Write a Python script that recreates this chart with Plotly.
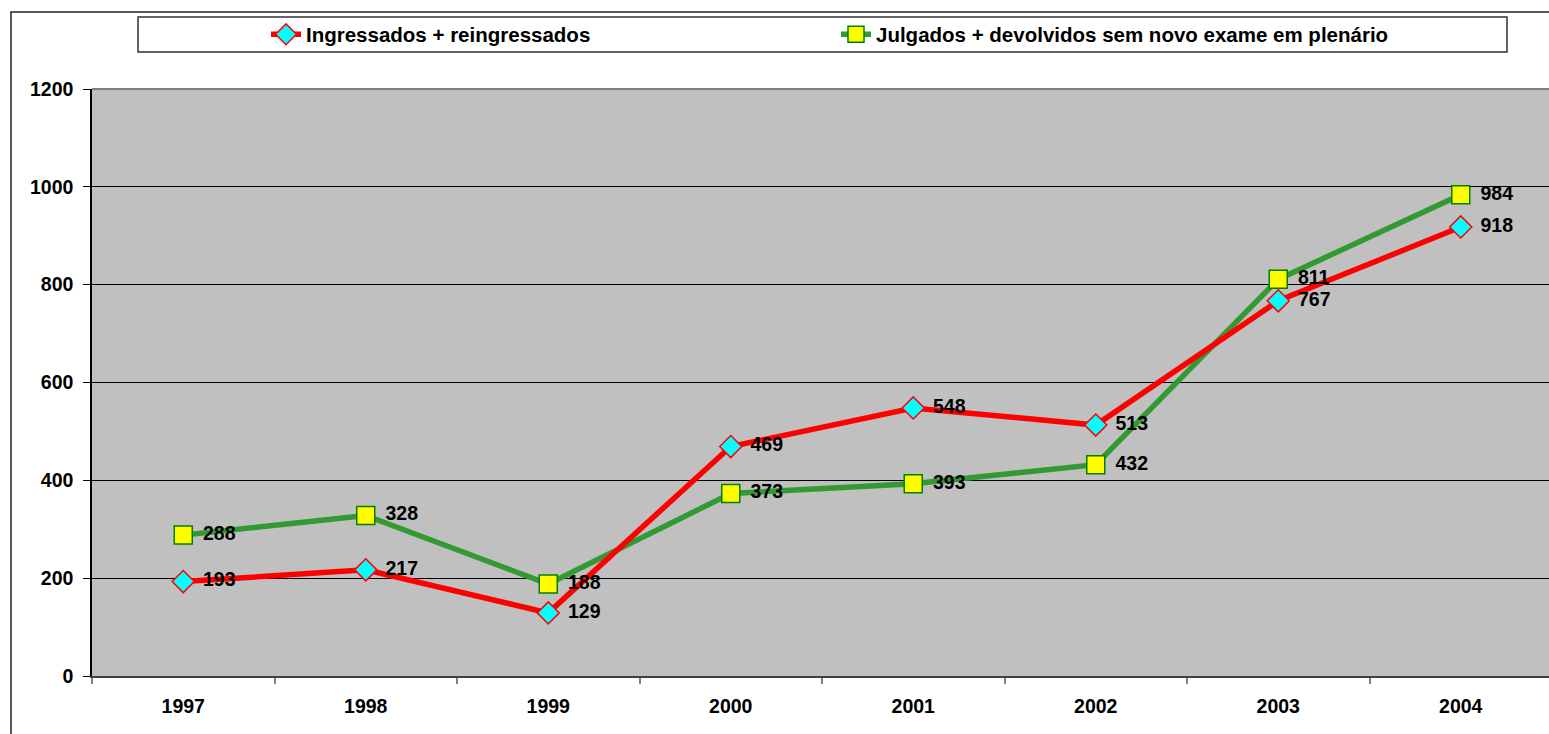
import plotly.graph_objects as go

years = ["1997", "1998", "1999", "2000", "2001", "2002", "2003", "2004"]
ingressados = [193, 217, 129, 469, 548, 513, 767, 918]
julgados = [288, 328, 188, 373, 393, 432, 811, 984]
name_ing = "Ingressados + reingressados"
name_jul = "Julgados + devolvidos sem novo exame em plenário"
y_ticks = [0, 200, 400, 600, 800, 1000, 1200]

FONT = "Liberation Sans, Arial, sans-serif"
W, H = 1549, 734
L, R, T, B = 92, 0, 89, 58
PW, PH = W - L - R, H - T - B


def px(x):
    return (x - L) / PW


def py(y):
    return (H - B - y) / PH


fig = go.Figure()

fig.add_trace(go.Scatter(
    x=years, y=julgados, name=name_jul, mode="lines+markers",
    line=dict(color="#339933", width=5.5),
    marker=dict(symbol="square", size=18, color="#FFFF00",
                line=dict(color="#008000", width=1.5)),
    legend="legend2", hoverinfo="skip"))

fig.add_trace(go.Scatter(
    x=years, y=ingressados, name=name_ing, mode="lines+markers",
    line=dict(color="#FF0000", width=5.5),
    marker=dict(symbol="diamond", size=17, color="#00FFFF",
                line=dict(color="#FF0000", width=1.5)),
    legend="legend", hoverinfo="skip"))

for vals in (julgados, ingressados):
    fig.add_trace(go.Scatter(
        x=years, y=vals, mode="markers+text", text=[str(v) for v in vals],
        textposition="middle right",
        textfont=dict(family=FONT, size=19.5, color="black", weight="bold"),
        marker=dict(size=30, color="rgba(0,0,0,0)"),
        showlegend=False, hoverinfo="skip"))

shapes = [
    # outer frame
    dict(type="rect", xref="paper", yref="paper", x0=px(11), x1=1.02,
         y0=-0.2, y1=py(12), line=dict(color="#222222", width=1.5),
         fillcolor="rgba(0,0,0,0)", layer="below"),
    # legend box
    dict(type="rect", xref="paper", yref="paper", x0=px(138), x1=px(1507),
         y0=py(52), y1=py(17), line=dict(color="#333333", width=1.5),
         fillcolor="white", layer="below"),
    # plot top border
    dict(type="line", xref="paper", yref="paper", x0=0, x1=1, y0=1, y1=1,
         line=dict(color="#808080", width=2)),
]

fig.update_layout(
    width=W, height=H,
    margin=dict(l=L, r=R, t=T, b=B),
    paper_bgcolor="white",
    plot_bgcolor="#C0C0C0",
    font=dict(family=FONT, size=19, color="black", weight="bold"),
    shapes=shapes,
    legend=dict(orientation="h", x=px(266), xanchor="left", y=py(34.5),
                yanchor="middle", bgcolor="rgba(0,0,0,0)", borderwidth=0,
                font=dict(family=FONT, size=20.5, color="black", weight="bold")),
    legend2=dict(orientation="h", x=px(836), xanchor="left", y=py(34.5),
                 yanchor="middle", bgcolor="rgba(0,0,0,0)", borderwidth=0,
                 font=dict(family=FONT, size=20.5, color="black", weight="bold")),
    showlegend=True,
)

fig.update_xaxes(
    type="category", range=[-0.5, 7.5 - 3 / 182.6],
    showgrid=False, showline=True, linecolor="#404040", linewidth=2,
    ticks="outside", tickson="boundaries", ticklen=6, tickwidth=2,
    tickcolor="#808080", ticklabelstandoff=12,
    tickfont=dict(family=FONT, size=19.5, color="black", weight="bold"),
    zeroline=False, fixedrange=True)

fig.update_yaxes(
    range=[0, 1200], tickvals=y_ticks, showgrid=True, gridcolor="black",
    gridwidth=1, showline=True, linecolor="black", linewidth=1.5,
    ticks="outside", ticklen=7, tickcolor="black", tickwidth=1,
    ticklabelstandoff=6,
    tickfont=dict(family=FONT, size=19.5, color="black", weight="bold"),
    zeroline=False, fixedrange=True)

fig.write_html(
    "out.html",
    config={"displayModeBar": False},
    post_script="document.body.style.margin='0';document.body.style.overflow='hidden';",
)
